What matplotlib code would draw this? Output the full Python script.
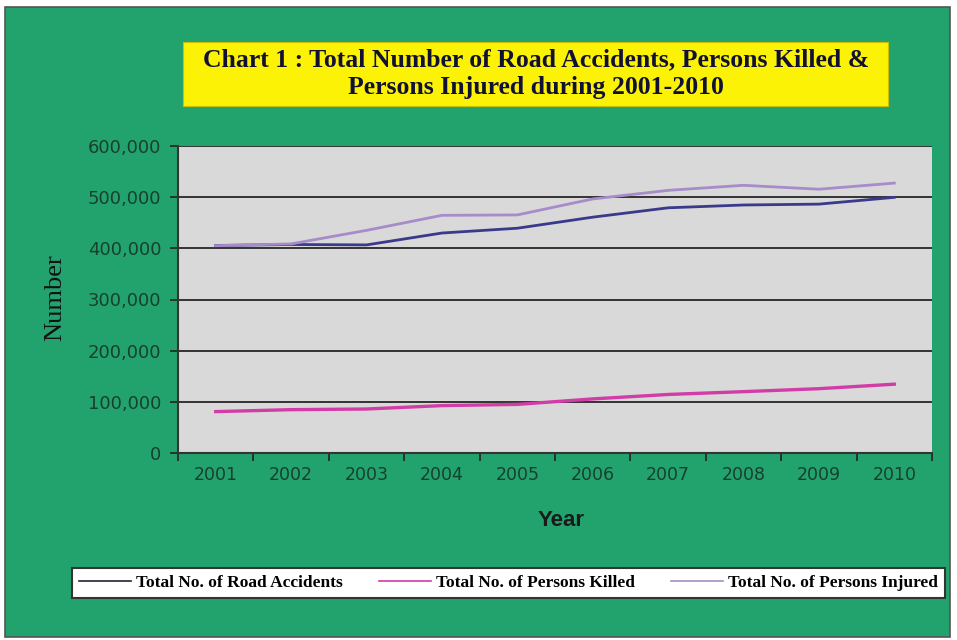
import matplotlib
matplotlib.use("Agg")
import matplotlib.pyplot as plt
from matplotlib.patches import Rectangle
from matplotlib.ticker import FuncFormatter, FixedLocator

years = ["2001", "2002", "2003", "2004", "2005", "2006", "2007", "2008", "2009", "2010"]
road_accidents = [405600, 407500, 406700, 429900, 439300, 460900, 479200, 484700, 486400, 499600]
persons_killed = [80900, 84700, 86000, 92600, 95000, 105700, 114400, 119900, 125700, 134500]
persons_injured = [405200, 408700, 435100, 464500, 465300, 496500, 513300, 523200, 515500, 527500]
series_names = ["Total No. of Road Accidents", "Total No. of Persons Killed", "Total No. of Persons Injured"]
yticks = [0, 100000, 200000, 300000, 400000, 500000, 600000]

W, H = 957, 640
GREEN = "#22a36e"
fig = plt.figure(figsize=(W / 100, H / 100), dpi=100, facecolor="white")

def fx(px):
    return px / W

def fy(py):
    return 1 - py / H

# green panel with frame
fig.patches.append(Rectangle((fx(5), fy(637)), fx(950) - fx(5), fy(7) - fy(637),
                             transform=fig.transFigure, facecolor=GREEN,
                             edgecolor="#555555", linewidth=1.2, zorder=-5))

# title box
fig.patches.append(Rectangle((fx(183), fy(106)), fx(888) - fx(183), fy(42) - fy(106),
                             transform=fig.transFigure, facecolor="#fbf206",
                             edgecolor="#c8c000", linewidth=0.8, zorder=-4))
fig.text(fx(536), fy(74), "Chart 1 : Total Number of Road Accidents, Persons Killed &\nPersons Injured during 2001-2010",
         ha="center", va="center", fontsize=18.5, fontweight="bold", family="Liberation Serif",
         color="#111133", linespacing=1.25, zorder=2)

ax = fig.add_axes([fx(178), fy(453), fx(932) - fx(178), fy(146) - fy(453)])
ax.set_zorder(3)
ax.set_facecolor("#d9d9d9")
x = list(range(len(years)))
l1, = ax.plot(x, road_accidents, color="#3a3a8c", lw=2.0, zorder=3)
l2, = ax.plot(x, persons_killed, color="#d23ca6", lw=2.4, zorder=3)
l3, = ax.plot(x, persons_injured, color="#a68cc8", lw=2.0, zorder=3)

ax.set_xlim(-0.5, len(years) - 0.5)
ax.set_ylim(0, 600000)
ax.xaxis.set_major_locator(FixedLocator([i - 0.5 for i in range(len(years) + 1)]))
ax.xaxis.set_minor_locator(FixedLocator(x))
ax.set_xticklabels([], minor=False)
ax.set_xticklabels(years, minor=True)
ax.tick_params(axis="x", which="major", length=6, width=1.2, color="#222222", direction="out")
ax.tick_params(axis="x", which="minor", length=0, pad=9, labelsize=12.5, labelcolor="#17402c")
ax.set_yticks(yticks)
ax.yaxis.set_major_formatter(FuncFormatter(lambda v, p: f"{int(v):,}"))
ax.tick_params(axis="y", length=6, width=1.2, color="#222222", pad=6, labelsize=13, labelcolor="#17402c")
for lab in ax.get_xticklabels(minor=True) + ax.get_yticklabels():
    lab.set_family("DejaVu Sans")

ax.grid(axis="y", color="#333333", lw=1.4, zorder=1)
ax.set_axisbelow(True)
for s in ["top", "right"]:
    ax.spines[s].set_visible(False)
ax.spines["left"].set_color("#333333")
ax.spines["left"].set_linewidth(1.5)
ax.spines["bottom"].set_color("#333333")
ax.spines["bottom"].set_linewidth(1.5)

fig.text(fx(55), fy(298), "Number", rotation=90, ha="center", va="center",
         fontsize=19, family="Liberation Serif", color="#111111")
fig.text(fx(561), fy(521), "Year", ha="center", va="center",
         fontsize=16, fontweight="bold", family="Liberation Sans", color="#1a1a1a")

leg = fig.legend([l1, l2, l3], series_names, ncol=3, loc="center",
                 bbox_to_anchor=(fx(72), fy(601), fx(945) - fx(72), fy(565) - fy(601)),
                 bbox_transform=fig.transFigure, mode="expand", frameon=True, fancybox=False,
                 framealpha=1.0,
                 prop={"family": "Liberation Serif", "weight": "bold", "size": 12.5},
                 handlelength=3.0, handletextpad=0.3, borderaxespad=0, columnspacing=1.5)
leg.set_zorder(5)
leg.get_frame().set_edgecolor("#333333")
leg.get_frame().set_linewidth(1.5)
leg.get_frame().set_facecolor("white")
leg.legend_handles[0].set_color("#222233")
for h in leg.legend_handles:
    h.set_linewidth(1.2)

fig.savefig("out.png", dpi=100, facecolor="white")
